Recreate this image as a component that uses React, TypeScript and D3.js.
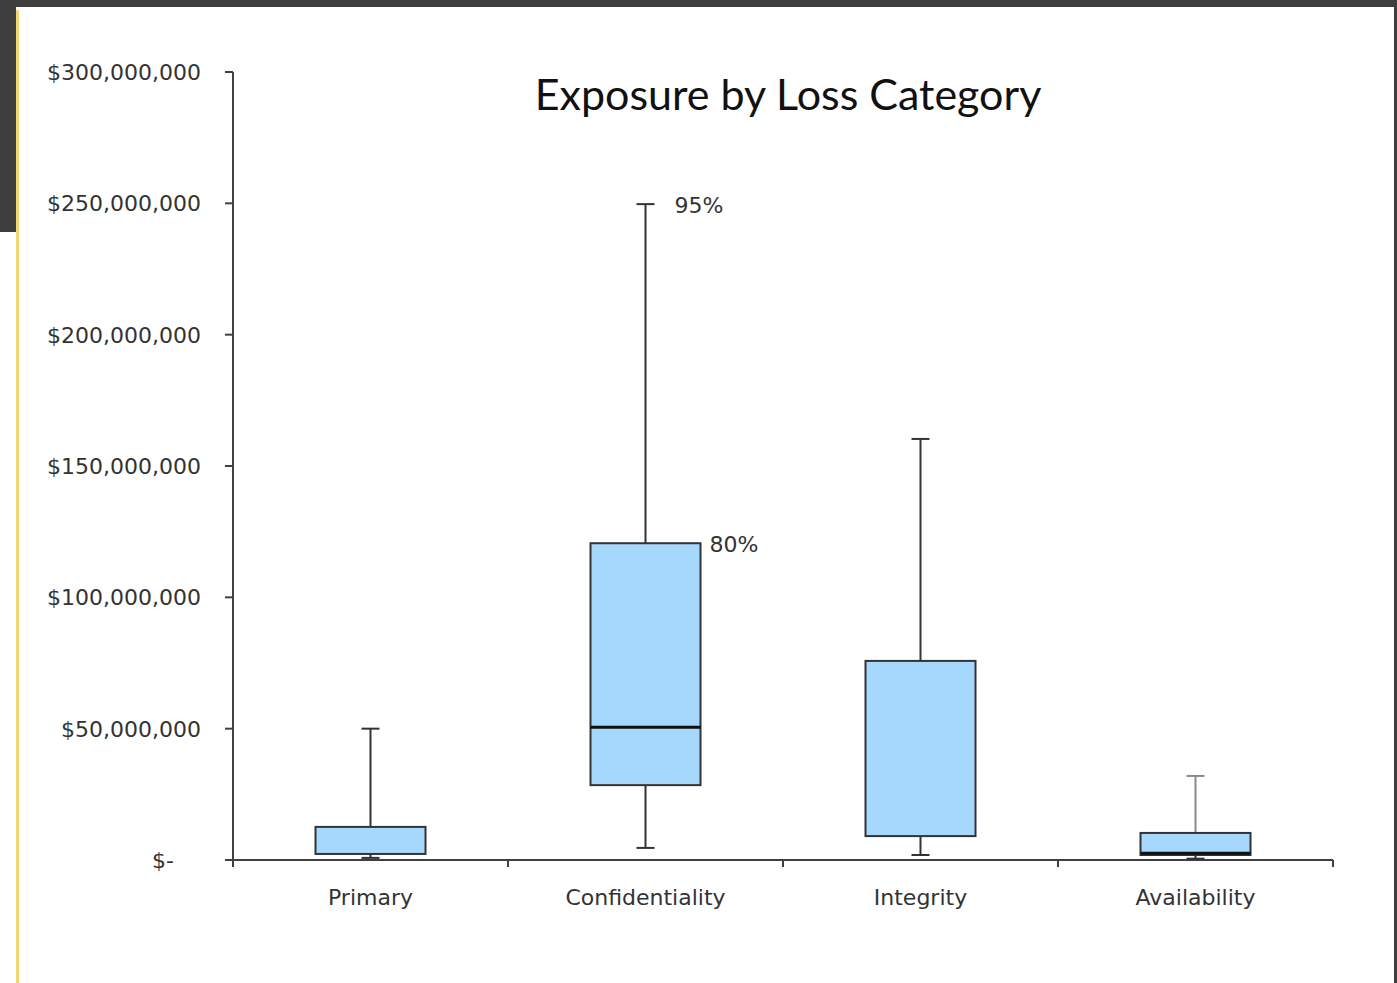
import React from "react";
import * as d3 from "d3";

const categories = ["Primary", "Confidentiality", "Integrity", "Availability"];
// values in dollars
const lowWhisker = [0.8e6, 4.6e6, 1.9e6, 0.5e6];
const q1Values = [2.3e6, 28.5e6, 9.1e6, 1.9e6];
const medianValues = [2.3e6, 50.5e6, 9.1e6, 2.6e6];
const q3Values = [12.6e6, 120.6e6, 75.8e6, 10.3e6];
const highWhisker = [50e6, 249.7e6, 160.3e6, 32e6];
const yTickValues = [0, 50e6, 100e6, 150e6, 200e6, 250e6, 300e6];
const annotations = [
  { cat: "Confidentiality", value: 249.7e6, label: "95%", side: "whisker" },
  { cat: "Confidentiality", value: 120.6e6, label: "80%", side: "box" },
];

const W = 1397;
const H = 983;
const FONT = "'DejaVu Sans', Verdana, sans-serif";

export default function App() {
  const y = d3.scaleLinear().domain([0, 300e6]).range([860, 72]);
  const x = d3.scaleBand().domain(categories).range([233, 1333]).padding(0);
  const boxW = 110;
  const capW = 18;
  const fmt = d3.format(",");
  const tickLabel = (v: number) => (v === 0 ? "$-" : "$" + fmt(v));
  const whiskerColors = ["#333", "#333", "#333", "#8a8a8a"];

  return (
    <svg
      width={W}
      height={H}
      viewBox={`0 0 ${W} ${H}`}
      style={{ position: "absolute", left: 0, top: 0, background: "#fff" }}
    >
      {/* frame */}
      <rect x={0} y={0} width={W} height={7} fill="#3e3e3e" />
      <rect x={0} y={0} width={16} height={232} fill="#3e3e3e" />
      <rect x={1394} y={0} width={3} height={H} fill="#3e3e3e" />
      <rect x={16} y={10} width={3} height={H - 10} fill="#f2d673" />

      {/* title */}
      <text
        x={788}
        y={110}
        textAnchor="middle"
        fontFamily="Lato, 'Open Sans', sans-serif"
        fontSize={43}
        fill="#111"
      >
        Exposure by Loss Category
      </text>

      {/* y axis */}
      <line x1={233} x2={233} y1={y(300e6)} y2={867} stroke="#404040" strokeWidth={2} />
      {yTickValues.map((v) => (
        <g key={v}>
          <line x1={225} x2={233} y1={y(v)} y2={y(v)} stroke="#404040" strokeWidth={2} />
          <text
            x={v === 0 ? 174 : 201}
            y={y(v) + 8}
            textAnchor="end"
            fontFamily={FONT}
            fontSize={22}
            fill="#333"
          >
            {tickLabel(v)}
          </text>
        </g>
      ))}

      {/* x axis */}
      <line x1={233} x2={1333} y1={860} y2={860} stroke="#404040" strokeWidth={2} />
      {categories.map((c) => (
        <line
          key={"t" + c}
          x1={(x(c) as number) + x.bandwidth()}
          x2={(x(c) as number) + x.bandwidth()}
          y1={860}
          y2={867}
          stroke="#404040"
          strokeWidth={2}
        />
      ))}
      {categories.map((c) => (
        <text
          key={"l" + c}
          x={(x(c) as number) + x.bandwidth() / 2}
          y={905}
          textAnchor="middle"
          fontFamily={FONT}
          fontSize={22}
          fill="#333"
        >
          {c}
        </text>
      ))}

      {/* boxes */}
      {categories.map((c, i) => {
        const cx = (x(c) as number) + x.bandwidth() / 2;
        const wc = whiskerColors[i];
        return (
          <g key={"b" + c}>
            <line x1={cx} x2={cx} y1={y(highWhisker[i])} y2={y(q3Values[i])} stroke={wc} strokeWidth={2} />
            <line x1={cx - capW / 2} x2={cx + capW / 2} y1={y(highWhisker[i])} y2={y(highWhisker[i])} stroke={wc} strokeWidth={2} />
            <line x1={cx} x2={cx} y1={y(q1Values[i])} y2={y(lowWhisker[i])} stroke="#333" strokeWidth={2} />
            <line x1={cx - capW / 2} x2={cx + capW / 2} y1={y(lowWhisker[i])} y2={y(lowWhisker[i])} stroke="#333" strokeWidth={2} />
            <rect
              x={cx - boxW / 2}
              y={y(q3Values[i])}
              width={boxW}
              height={y(q1Values[i]) - y(q3Values[i])}
              fill="#a6d7fd"
              stroke="#333"
              strokeWidth={2}
            />
            {medianValues[i] !== q1Values[i] && (
              <line
                x1={cx - boxW / 2}
                x2={cx + boxW / 2}
                y1={y(medianValues[i])}
                y2={y(medianValues[i])}
                stroke="#111"
                strokeWidth={3}
              />
            )}
          </g>
        );
      })}

      {/* annotations */}
      {annotations.map((a) => {
        const cx = (x(a.cat) as number) + x.bandwidth() / 2;
        const tx = a.side === "box" ? cx + boxW / 2 + 9 : cx + 29;
        return (
          <text
            key={a.label}
            x={tx}
            y={y(a.value) + 9}
            fontFamily={FONT}
            fontSize={22}
            fill="#333"
          >
            {a.label}
          </text>
        );
      })}
    </svg>
  );
}
